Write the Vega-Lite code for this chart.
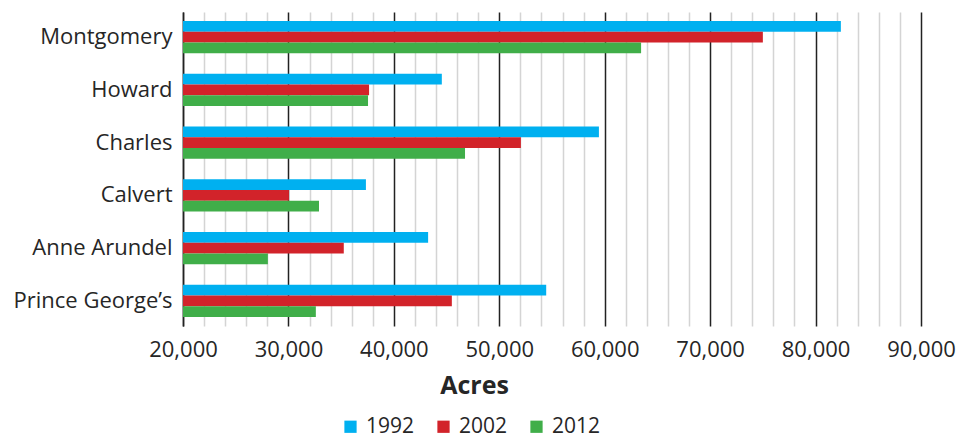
{
  "$schema": "https://vega.github.io/schema/vega-lite/v6.json",
  "width": 738,
  "height": 314,
  "autosize": "none",
  "padding": {"left": 183, "top": 12, "right": 39, "bottom": 112},
  "background": "white",
  "config": {"view": {"stroke": null}, "font": "Open Sans"},
  "data": {
    "values": [
      {"county": "Montgomery", "year": "1992", "acres": 82400},
      {"county": "Montgomery", "year": "2002", "acres": 75000},
      {"county": "Montgomery", "year": "2012", "acres": 63450},
      {"county": "Howard", "year": "1992", "acres": 44550},
      {"county": "Howard", "year": "2002", "acres": 37650},
      {"county": "Howard", "year": "2012", "acres": 37550},
      {"county": "Charles", "year": "1992", "acres": 59450},
      {"county": "Charles", "year": "2002", "acres": 52050},
      {"county": "Charles", "year": "2012", "acres": 46750},
      {"county": "Calvert", "year": "1992", "acres": 37350},
      {"county": "Calvert", "year": "2002", "acres": 30050},
      {"county": "Calvert", "year": "2012", "acres": 32900},
      {"county": "Anne Arundel", "year": "1992", "acres": 43250},
      {"county": "Anne Arundel", "year": "2002", "acres": 35250},
      {"county": "Anne Arundel", "year": "2012", "acres": 28050},
      {"county": "Prince George’s", "year": "1992", "acres": 54450},
      {"county": "Prince George’s", "year": "2002", "acres": 45500},
      {"county": "Prince George’s", "year": "2012", "acres": 32600}
    ]
  },
  "mark": {"type": "bar", "clip": true},
  "encoding": {
    "y": {
      "field": "county",
      "type": "nominal",
      "sort": ["Montgomery", "Howard", "Charles", "Calvert", "Anne Arundel", "Prince George’s"],
      "scale": {"paddingInner": 0.39, "paddingOuter": 0.17},
      "axis": {
        "title": null,
        "ticks": false,
        "labelFontSize": 22,
        "labelColor": "#262626",
        "labelPadding": 11,
        "domainColor": "#222222",
        "domainWidth": 1.5
      }
    },
    "yOffset": {
      "field": "year",
      "type": "nominal",
      "sort": ["1992", "2002", "2012"],
      "scale": {"paddingInner": 0, "paddingOuter": 0}
    },
    "x": {
      "field": "acres",
      "type": "quantitative",
      "scale": {"domain": [20000, 90000], "zero": false, "nice": false},
      "axis": {
        "values": [20000, 22000, 24000, 26000, 28000, 30000, 32000, 34000, 36000, 38000, 40000, 42000, 44000, 46000, 48000, 50000, 52000, 54000, 56000, 58000, 60000, 62000, 64000, 66000, 68000, 70000, 72000, 74000, 76000, 78000, 80000, 82000, 84000, 86000, 88000, 90000],
        "labelExpr": "datum.value % 10000 === 0 ? format(datum.value, ',.0f') : ''",
        "grid": true,
        "gridColor": {"condition": {"test": "datum.value % 10000 === 0", "value": "#222222"}, "value": "#d4d4d4"},
        "gridWidth": 1.5,
        "ticks": false,
        "domain": false,
        "labelFontSize": 22,
        "labelColor": "#262626",
        "labelPadding": 13,
        "labelFlush": false,
        "title": "Acres",
        "titleFontSize": 25,
        "titleFontWeight": "bold",
        "titleColor": "#262626",
        "titlePadding": 13,
        "titleX": 291,
        "titleAlign": "center"
      }
    },
    "color": {
      "field": "year",
      "type": "nominal",
      "scale": {"domain": ["1992", "2002", "2012"], "range": ["#00B0F0", "#D2232A", "#40AE49"]},
      "legend": {
        "title": null,
        "orient": "none",
        "direction": "horizontal",
        "legendX": 157,
        "legendY": 404,
        "symbolType": "square",
        "symbolSize": 150,
        "symbolStrokeWidth": 0,
        "labelFontSize": 21,
        "labelColor": "#262626",
        "columnPadding": 18,
        "labelOffset": 5
      }
    }
  }
}
